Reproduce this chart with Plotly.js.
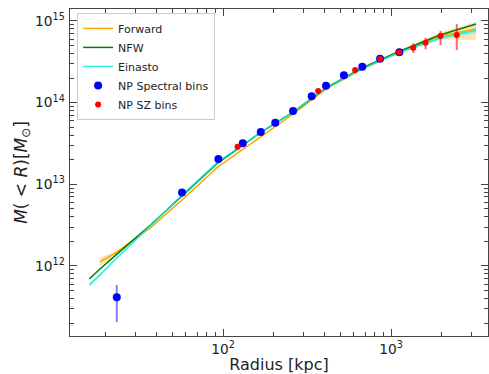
<!DOCTYPE html>
<html>
<head>
<meta charset="utf-8">
<script src="https://cdn.plot.ly/plotly-3.0.1.min.js"></script>
<style>
  html, body { margin: 0; padding: 0; background: #fff; }
  #chart { width: 489px; height: 374px; }
</style>
</head>
<body>
<div id="chart"></div>
<script>
// Enclosed mass profile M(<R): model curves and binned measurements

// Model radii [kpc]
const modelRadius = [16, 18.5, 23, 37, 57, 93, 166, 261, 410, 672, 1116, 1957, 3206];
const forwardRadius = [18.5, 23, 37, 57, 93, 166, 261, 410, 672, 1116, 1957, 3206];

// NFW fit [M_sun]
const nfwMass = [6.93e11, 9.19e11, 1.36e12, 3.18e12, 7.19e12, 1.82e13, 4.25e13, 7.67e13, 1.51e14, 2.65e14, 4.22e14, 6.72e14, 9.17e14];

// Einasto fit and its envelope [M_sun]
const einastoMass = [5.87e11, 7.76e11, 1.22e12, 3.09e12, 7.4e12, 1.87e13, 4.25e13, 7.67e13, 1.51e14, 2.61e14, 4.10e14, 6.18e14, 7.63e14];
const einastoLow  = [5.6e11, 7.45e11, 1.18e12, 3.0e12, 7.2e12, 1.82e13, 4.15e13, 7.5e13, 1.48e14, 2.55e14, 3.98e14, 5.9e14, 7.0e14];
const einastoHigh = [6.15e11, 8.1e11, 1.27e12, 3.18e12, 7.6e12, 1.92e13, 4.35e13, 7.85e13, 1.55e14, 2.68e14, 4.24e14, 6.5e14, 8.3e14];

// Forward model and its envelope [M_sun]
const forwardMass = [1.12e12, 1.45e12, 2.95e12, 6.43e12, 1.63e13, 3.79e13, 7.25e13, 1.47e14, 2.58e14, 4.16e14, 6.53e14, 7.96e14];
const forwardLow  = [1.0e12, 1.37e12, 2.88e12, 6.3e12, 1.6e13, 3.72e13, 7.1e13, 1.44e14, 2.5e14, 3.95e14, 5.9e14, 5.9e14];
const forwardHigh = [1.25e12, 1.53e12, 3.02e12, 6.55e12, 1.66e13, 3.86e13, 7.4e13, 1.5e14, 2.66e14, 4.38e14, 7.2e14, 9.8e14];

// NP spectral bins
const specRadius = [23.3, 57.0, 93.8, 131, 167.6, 204.5, 261, 337, 410, 524, 674, 860, 1120];
const specMass   = [4.14e11, 7.94e12, 2.04e13, 3.18e13, 4.37e13, 5.68e13, 7.89e13, 1.20e14, 1.61e14, 2.16e14, 2.74e14, 3.44e14, 4.13e14];
const specErrUp  = [1.7e11, 0, 0, 0, 0, 0, 0, 0, 0, 0, 0, 0, 0];
const specErrLow = [2.08e11, 0, 0, 0, 0, 0, 0, 0, 0, 0, 0, 0, 0];

// NP SZ bins
const szRadius = [122, 368, 611, 860, 1115, 1357, 1605, 1970, 2461];
const szMass   = [2.89e13, 1.39e14, 2.51e14, 3.42e14, 4.10e14, 4.70e14, 5.41e14, 6.53e14, 6.72e14];
const szErrUp  = [1.2e12, 6e12, 1.2e13, 1.6e13, 2.0e13, 6.2e13, 8.1e13, 9.9e13, 2.44e14];
const szErrLow = [1.2e12, 6e12, 1.2e13, 1.6e13, 2.0e13, 6.5e13, 9.2e13, 1.46e14, 2.32e14];

const font = 'DejaVu Sans, Liberation Sans, sans-serif';
const xRange = [1.089, 3.577];
const yRange = [11.143, 15.146];

// Minor tick positions (2..9 times each power of ten)
function minorTicks(lo, hi) {
  const vals = [];
  for (let p = Math.floor(lo) - 1; p <= Math.ceil(hi); p++) {
    for (let m = 2; m <= 9; m++) vals.push(m * Math.pow(10, p));
  }
  return vals;
}

function band(x, lo, hi, fillcolor) {
  return [
    { x: x, y: lo, mode: 'lines', line: { width: 0 }, hoverinfo: 'skip', showlegend: false },
    { x: x, y: hi, mode: 'lines', line: { width: 0 }, fill: 'tonexty', fillcolor: fillcolor,
      hoverinfo: 'skip', showlegend: false }
  ];
}

const traces = [
  ...band(forwardRadius, forwardLow, forwardHigh, 'rgba(255,165,0,0.3)'),
  ...band(modelRadius, einastoLow, einastoHigh, 'rgba(0,255,255,0.3)'),
  { x: forwardRadius, y: forwardMass, mode: 'lines', name: 'Forward',
    line: { color: '#ffa500', width: 1.5 } },
  { x: modelRadius, y: nfwMass, mode: 'lines', name: 'NFW',
    line: { color: '#008000', width: 1.5 } },
  { x: modelRadius, y: einastoMass, mode: 'lines', name: 'Einasto',
    line: { color: '#00f0e8', width: 1.5 }, opacity: 0.85 },
  { x: specRadius, y: specMass, mode: 'markers', name: 'NP Spectral bins',
    marker: { color: '#0000ff', size: 8 },
    error_y: { type: 'data', symmetric: false, array: specErrUp, arrayminus: specErrLow,
               color: 'rgba(0,0,255,0.5)', thickness: 2, width: 0 } },
  { x: szRadius, y: szMass, mode: 'markers', name: 'NP SZ bins',
    marker: { color: '#ff0000', size: 6 },
    error_y: { type: 'data', symmetric: false, array: szErrUp, arrayminus: szErrLow,
               color: 'rgba(255,0,0,0.6)', thickness: 2, width: 0 } },
  // empty trace that carries the minor-tick overlay axes
  { x: [], y: [], xaxis: 'x2', yaxis: 'y2', mode: 'markers', showlegend: false, hoverinfo: 'skip' }
];

const axisCommon = {
  type: 'log',
  showgrid: false,
  zeroline: false,
  showline: true,
  linecolor: '#444',
  linewidth: 1,
  mirror: 'ticks',
  ticks: 'inside',
  ticklen: 7,
  tickwidth: 1,
  tickcolor: '#444',
  dtick: 1,
  exponentformat: 'power',
  tickfont: { family: font, size: 11, color: '#222' }
};

const minorCommon = {
  type: 'log',
  showgrid: false,
  zeroline: false,
  showline: false,
  mirror: 'ticks',
  ticks: 'inside',
  ticklen: 4,
  tickwidth: 1,
  tickcolor: '#444',
  tickmode: 'array',
  showticklabels: false
};

const layout = {
  width: 489,
  height: 374,
  margin: { l: 70, r: 1, t: 9, b: 38 },
  paper_bgcolor: '#fff',
  plot_bgcolor: '#fff',
  font: { family: font, color: '#222' },
  showlegend: true,
  legend: {
    x: 0.017, y: 0.988, xanchor: 'left', yanchor: 'top',
    traceorder: 'normal',
    bgcolor: '#fff', bordercolor: '#ccc', borderwidth: 1,
    font: { family: font, size: 11, color: '#222' },
    tracegroupgap: 0
  },
  xaxis: Object.assign({}, axisCommon, {
    range: xRange,
    ticklabelstandoff: 1,
    title: { text: 'Radius [kpc]', font: { family: font, size: 16, color: '#222' }, standoff: 2 }
  }),
  yaxis: Object.assign({}, axisCommon, {
    range: yRange,
    ticklabelstandoff: 2,
    title: { text: '<i>M</i>( &lt; <i>R</i>)[<i>M</i><sub>⊙</sub>]',
             font: { family: font, size: 17, color: '#222' }, standoff: 3 }
  }),
  xaxis2: Object.assign({}, minorCommon, {
    overlaying: 'x', anchor: 'y2', side: 'bottom', range: xRange,
    tickvals: minorTicks(xRange[0], xRange[1])
  }),
  yaxis2: Object.assign({}, minorCommon, {
    overlaying: 'y', anchor: 'x2', side: 'left', range: yRange,
    tickvals: minorTicks(yRange[0], yRange[1])
  })
};

Plotly.newPlot('chart', traces, layout, { staticPlot: true, displayModeBar: false });
</script>
</body>
</html>
